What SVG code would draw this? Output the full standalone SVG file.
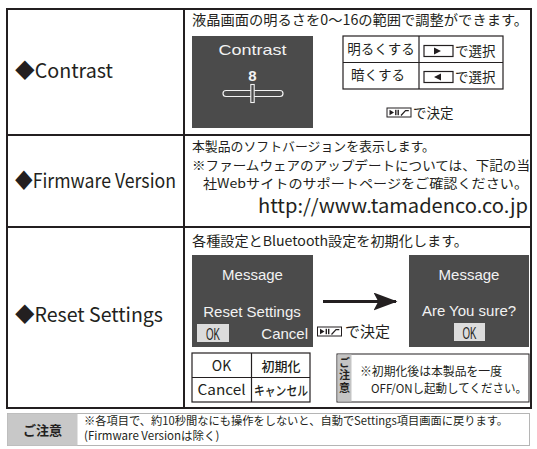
<svg xmlns="http://www.w3.org/2000/svg" width="537" height="449" viewBox="0 0 537 449">
<style>
.jp{font-family:"Noto Sans CJK JP","Noto Sans",sans-serif;fill:#231f20}
.lbl{font-family:"Noto Sans CJK JP","Noto Sans",sans-serif;font-size:20px;fill:#231f20}
.scr{fill:#4b4b4b}
.wt{font-family:"Liberation Sans",Arial,sans-serif;font-size:15px;fill:#f2f2f2;text-anchor:middle}
.okbox{fill:#dcdcdc}
.okt{font-family:"Liberation Sans",Arial,sans-serif;font-size:17px;fill:#231f20;text-anchor:middle}
.ln{stroke:#231f20;stroke-width:2;fill:none}
.thin{stroke:#231f20;stroke-width:1.2;fill:none}
.mid{text-anchor:middle}
</style>
<defs>
<marker id="ah" markerWidth="8" markerHeight="6" refX="7.5" refY="3" orient="auto" markerUnits="strokeWidth">
<path d="M0,0 L8,3 L0,6 L1.6,3 Z" fill="#231f20"/>
</marker>
<g id="icon">
<rect x="0.5" y="0.5" width="24" height="9" fill="#fff" stroke="#231f20" stroke-width="1"/>
<path d="M3,2.3 L3,7.7 L7.5,5 Z" fill="#231f20"/>
<rect x="8.6" y="2.3" width="1.4" height="5.4" fill="#231f20"/>
<rect x="11" y="2.3" width="1.4" height="5.4" fill="#231f20"/>
<path d="M14.5,8 L19,3.2 L22.3,3.2" fill="none" stroke="#231f20" stroke-width="1.2"/>
</g>
</defs>
<rect width="537" height="449" fill="#fff"/>

<g id="table">
<rect x="7" y="9" width="524" height="399" class="ln"/>
<line x1="184" y1="9" x2="184" y2="408" class="ln"/>
<line x1="7" y1="135" x2="531" y2="135" class="ln"/>
<line x1="7" y1="227" x2="531" y2="227" class="ln"/>
</g>

<g id="contrast-label"><text class="lbl" x="15" y="78" textLength="98" lengthAdjust="spacingAndGlyphs">◆Contrast</text></g>
<g id="firmware-label"><text class="lbl" x="15" y="188" textLength="161" lengthAdjust="spacingAndGlyphs">◆Firmware Version</text></g>
<g id="reset-label"><text class="lbl" x="15" y="322" textLength="148" lengthAdjust="spacingAndGlyphs">◆Reset Settings</text></g>

<g id="contrast-desc">
<text class="jp" x="192" y="25" font-size="14" textLength="336" lengthAdjust="spacingAndGlyphs">液晶画面の明るさを0〜16の範囲で調整ができます。</text>
</g>
<g id="contrast-screen">
<rect class="scr" x="192" y="36" width="121" height="92"/>
<text class="wt" x="252.5" y="55" font-size="16" textLength="68" lengthAdjust="spacingAndGlyphs">Contrast</text>
<text class="wt" x="252.5" y="81" font-size="14" font-weight="bold">8</text>
<rect x="223" y="90.5" width="60" height="6" rx="3" fill="none" stroke="#f2f2f2" stroke-width="1.2"/>
<rect x="250.8" y="84.5" width="3.4" height="18" fill="#4b4b4b" stroke="#f2f2f2" stroke-width="1.1"/>
</g>
<g id="key-table">
<rect x="343" y="36" width="160" height="53" class="thin"/>
<line x1="343" y1="62.5" x2="503" y2="62.5" class="thin"/>
<line x1="419" y1="36" x2="419" y2="89" class="thin"/>
<text class="jp mid" x="381" y="54" font-size="13.5">明るくする</text>
<text class="jp mid" x="378" y="80" font-size="13.5">暗くする</text>
<rect x="424" y="45.5" width="29" height="11" class="thin"/>
<path d="M434,47.5 L434,54.5 L441,51 Z" fill="#231f20"/>
<text class="jp" x="455" y="56" font-size="13.5">で選択</text>
<rect x="424" y="71.5" width="29" height="11" class="thin"/>
<path d="M441,73.5 L441,80.5 L434,77 Z" fill="#231f20"/>
<text class="jp" x="455" y="82" font-size="13.5">で選択</text>
</g>
<g id="contrast-decide">
<use href="#icon" x="386.5" y="107.5"/>
<text class="jp" x="413" y="118" font-size="13.5">で決定</text>
</g>

<g id="firmware-desc">
<text class="jp" x="192" y="151" font-size="12.8" textLength="243" lengthAdjust="spacingAndGlyphs">本製品のソフトバージョンを表示します。</text>
<text class="jp" x="192" y="169.5" font-size="12.8" textLength="338" lengthAdjust="spacingAndGlyphs">※ファームウェアのアップデートについては、下記の当</text>
<text class="jp" x="203" y="188" font-size="12.8" textLength="325" lengthAdjust="spacingAndGlyphs">社Webサイトのサポートページをご確認ください。</text>
<text class="jp" x="258" y="213" font-size="19" textLength="270" lengthAdjust="spacingAndGlyphs">http://www.tamadenco.co.jp</text>
</g>

<g id="reset-desc">
<text class="jp" x="192" y="246" font-size="13.5" textLength="276" lengthAdjust="spacingAndGlyphs">各種設定とBluetooth設定を初期化します。</text>
</g>
<g id="reset-screen">
<rect class="scr" x="192" y="255" width="121" height="92"/>
<text class="wt" x="252.5" y="280" font-size="14.5">Message</text>
<text class="wt" x="252" y="317">Reset Settings</text>
<rect class="okbox" x="197" y="324" width="32" height="18"/>
<text class="okt" x="213" y="339.5" textLength="14" lengthAdjust="spacingAndGlyphs">OK</text>
<text class="wt" x="308" y="338.5" style="text-anchor:end">Cancel</text>
</g>
<g id="reset-decide">
<use href="#icon" x="317" y="326.5"/>
<text class="jp" x="345" y="337" font-size="15">で決定</text>
</g>
<g id="confirm-screen">
<rect class="scr" x="409" y="255" width="120" height="92"/>
<text class="wt" x="469" y="280" font-size="14.5">Message</text>
<text class="wt" x="469" y="316">Are You sure?</text>
<rect class="okbox" x="454" y="323" width="31" height="18"/>
<text class="okt" x="469.5" y="338.5" textLength="14" lengthAdjust="spacingAndGlyphs">OK</text>
</g>
<g id="connectors">
<line x1="323" y1="301.5" x2="396" y2="301.5" stroke="#231f20" stroke-width="3" marker-end="url(#ah)"/>
</g>
<g id="button-table">
<rect x="192" y="353" width="118" height="49" class="thin"/>
<line x1="192" y1="377.5" x2="310" y2="377.5" class="thin"/>
<line x1="251.5" y1="353" x2="251.5" y2="402" class="thin"/>
<text class="jp mid" x="221.5" y="370.5" font-size="14">OK</text>
<text class="jp mid" x="281" y="370.5" font-size="13" font-weight="500">初期化</text>
<text class="jp mid" x="221.5" y="395" font-size="14" textLength="48" lengthAdjust="spacingAndGlyphs">Cancel</text>
<text class="jp mid" x="281" y="395" font-size="13" textLength="54" lengthAdjust="spacingAndGlyphs" font-weight="500">キャンセル</text>
</g>
<g id="reset-note">
<rect x="337" y="354" width="192" height="48" fill="#fff" stroke="#231f20" stroke-width="1"/>
<rect x="337.5" y="354.5" width="14" height="47" fill="#c4c4c4"/>
<text class="jp" x="344.5" y="357" font-size="11" font-weight="bold" writing-mode="vertical-rl" letter-spacing="1.5">ご注意</text>
<text class="jp" x="360" y="376" font-size="12" textLength="142" lengthAdjust="spacingAndGlyphs">※初期化後は本製品を一度</text>
<text class="jp" x="371" y="393" font-size="12" textLength="156" lengthAdjust="spacingAndGlyphs">OFF/ONし起動してください。</text>
</g>

<g id="footer">
<rect x="7.5" y="413.5" width="522" height="32" fill="none" stroke="#b5b5b5" stroke-width="1"/>
<rect x="7.5" y="413.5" width="70" height="32" fill="#c8c8c8"/>
<text class="jp mid" x="42.5" y="435" font-size="13" font-weight="bold">ご注意</text>
<text class="jp" x="84" y="425" font-size="11.5" textLength="424" lengthAdjust="spacingAndGlyphs">※各項目で、約10秒間なにも操作をしないと、自動でSettings項目画面に戻ります。</text>
<text class="jp" x="84" y="440" font-size="11.5">(Firmware Versionは除く)</text>
</g>
</svg>
